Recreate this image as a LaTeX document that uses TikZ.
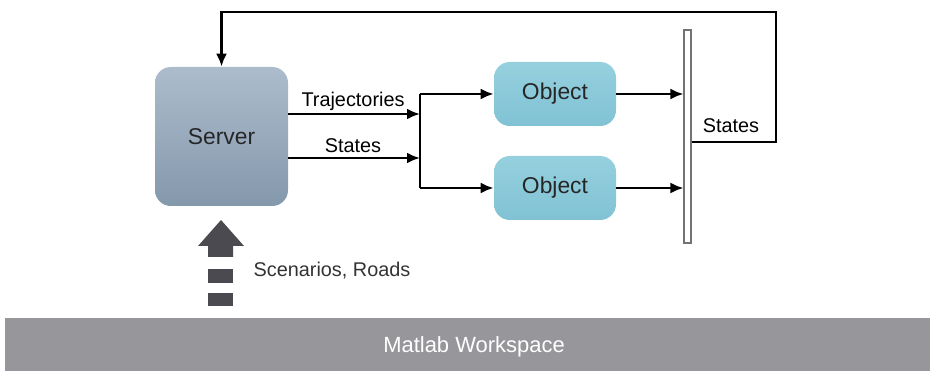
\documentclass[tikz,border=0pt]{standalone}
\usepackage{fontspec}
\setmainfont{Liberation Sans}
\usetikzlibrary{arrows.meta}
\definecolor{srvtop}{RGB}{172,188,204}
\definecolor{srvbot}{RGB}{132,152,172}
\definecolor{objtop}{RGB}{150,208,222}
\definecolor{objbot}{RGB}{128,194,212}
\definecolor{wsgray}{RGB}{150,150,155}
\definecolor{bigarrow}{RGB}{74,74,80}

\begin{document}
\begin{tikzpicture}[
  flow/.style={line width=1.4pt, -{Latex[length=2.6mm,width=2.2mm]}},
  wire/.style={line width=1.4pt},
  lbl/.style={font=\fontsize{11.3}{13}\selectfont},
  block/.style={rounded corners=9pt, draw=none, font=\fontsize{13}{15}\selectfont, text=black!85}
]
\useasboundingbox (0,0) rectangle (18.6,7.42);

% blocks
\node[block, top color=srvtop, bottom color=srvbot, minimum width=2.66cm, minimum height=2.78cm] (server) at (4.43,4.69) {Server};
\node[block, top color=objtop, bottom color=objbot, minimum width=2.44cm, minimum height=1.28cm] (obj1) at (11.1,5.54) {Object};
\node[block, top color=objtop, bottom color=objbot, minimum width=2.44cm, minimum height=1.28cm] (obj2) at (11.1,3.66) {Object};
\node[draw=black!55, fill=white, line width=0.6pt, minimum width=0.14cm, minimum height=4.26cm, inner sep=0pt] (bus) at (13.75,4.69) {};

% junction points
\coordinate (jt) at (8.4,5.14);
\coordinate (js) at (8.4,4.26);
\coordinate (fb) at (15.52,7.18);

\draw[flow] (server.east |- jt) -- (jt);
\draw[flow] (server.east |- js) -- (js);
\node[lbl] (ltraj) at (7.06,5.40) {Trajectories};
\node[lbl] (lstate) at (7.06,4.50) {States};

\draw[wire] (obj1.west -| jt) -- (obj2.west -| jt);
\foreach \o in {obj1,obj2} {
  \draw[flow] (\o.west -| jt) -- (\o.west);
  \draw[flow] (\o.east) -- (\o.east -| bus.west);
}

% feedback
\draw[flow] (bus.east |- 0,4.58) -| (fb) -| (server.north);
\node[lbl] (lout) at (14.62,4.90) {States};

% input arrow
\fill[bigarrow] (4.42,3.02) -- (4.88,2.50) -- (4.66,2.50) -- (4.66,2.28)
  -- (4.16,2.28) -- (4.16,2.50) -- (3.96,2.50) -- cycle;
\foreach \ya/\yb in {2.04/1.76, 1.56/1.30} {
  \fill[bigarrow] (4.16,\ya) rectangle (4.66,\yb);
}
\node[lbl, text=black!80] (scen) at (6.64,2.0) {Scenarios, Roads};

% workspace
\fill[wsgray] (0.1,0) rectangle (18.6,1.06);
\node[font=\fontsize{12.5}{14}\selectfont, text=white] (ws) at (9.48,0.48) {Matlab Workspace};

\end{tikzpicture}
\end{document}
